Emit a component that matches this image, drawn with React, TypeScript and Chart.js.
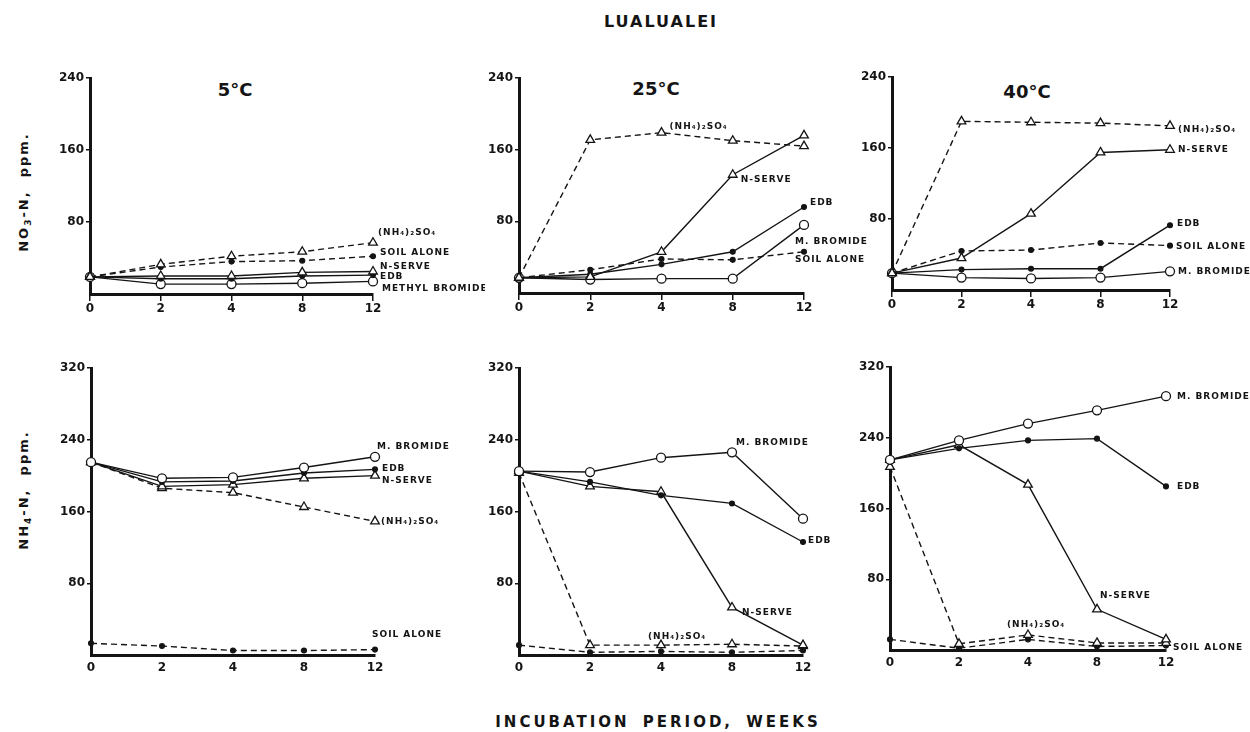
import React, { useEffect, useRef } from 'react';
import { Chart, registerables } from 'chart.js';

Chart.register(...registerables);

const INK = '#141414';
const FONT_FAMILY = '"DejaVu Sans", "Liberation Sans", sans-serif';

// ---- categories / ticks ----
const weeks = ['0', '2', '4', '8', '12'];
const no3Max = 240;
const nh4Max = 320;
const yStep = 80;

// ---- NO3-N, ppm ----
// 5 °C
const no3_5C_ammSulfate = [19, 33, 42, 47, 57];
const no3_5C_soilAlone = [19, 30, 36, 37, 42];
const no3_5C_nServe = [19, 20, 20, 24, 25];
const no3_5C_edb = [19, 17, 17, 20, 21];
const no3_5C_mBromide = [19, 11, 11, 12, 14];
// 25 °C
const no3_25C_ammSulfate = [17, 171, 179, 170, 164];
const no3_25C_nServe = [17, 18, 46, 132, 176];
const no3_25C_edb = [17, 21, 32, 46, 96];
const no3_25C_mBromide = [17, 15, 16, 16, 76];
const no3_25C_soilAlone = [17, 26, 38, 37, 46];
// 40 °C
const no3_40C_ammSulfate = [19, 190, 189, 188, 185];
const no3_40C_nServe = [19, 36, 86, 155, 158];
const no3_40C_edb = [19, 23, 24, 24, 73];
const no3_40C_soilAlone = [19, 44, 45, 53, 50];
const no3_40C_mBromide = [19, 14, 13, 14, 21];

// ---- NH4-N, ppm ----
// 5 °C
const nh4_5C_mBromide = [215, 197, 198, 209, 221];
const nh4_5C_edb = [215, 193, 194, 203, 207];
const nh4_5C_nServe = [215, 188, 190, 197, 200];
const nh4_5C_ammSulfate = [215, 186, 181, 165, 149];
const nh4_5C_soilAlone = [13, 10, 5, 5, 6];
// 25 °C
const nh4_25C_mBromide = [205, 204, 220, 226, 152];
const nh4_25C_edb = [205, 193, 178, 169, 126];
const nh4_25C_nServe = [205, 188, 182, 53, 11];
const nh4_25C_ammSulfate = [203, 11, 11, 12, 10];
const nh4_25C_soilAlone = [11, 3, 4, 3, 5];
// 40 °C
const nh4_40C_mBromide = [215, 237, 256, 271, 287];
const nh4_40C_edb = [215, 228, 237, 239, 185];
const nh4_40C_nServe = [215, 232, 187, 46, 12];
const nh4_40C_ammSulfate = [207, 7, 17, 8, 8];
const nh4_40C_soilAlone = [12, 2, 12, 4, 5];

const AMM = '(NH\u2084)\u2082SO\u2084';

type Kind = 'amm' | 'soil' | 'nserve' | 'edb' | 'mbr';
type Label = { text: string; data: number[]; i: number; dx: number; dy: number };
type PanelDef = {
  l: number; r: number; t: number; b: number; padR: number;
  max: number; xTicks: boolean;
  series: { kind: Kind; data: number[] }[];
  labels: Label[];
};

const PAD_T = 12;
const Y_W = 45;
const X_H = 25;

const panels: PanelDef[] = [
  {
    l: 90, r: 373, t: 78, b: 294, padR: 112, max: no3Max, xTicks: true,
    series: [
      { kind: 'amm', data: no3_5C_ammSulfate },
      { kind: 'soil', data: no3_5C_soilAlone },
      { kind: 'nserve', data: no3_5C_nServe },
      { kind: 'edb', data: no3_5C_edb },
      { kind: 'mbr', data: no3_5C_mBromide },
    ],
    labels: [
      { text: AMM, data: no3_5C_ammSulfate, i: 4, dx: 5, dy: -10 },
      { text: 'SOIL ALONE', data: no3_5C_soilAlone, i: 4, dx: 7, dy: -4 },
      { text: 'N-SERVE', data: no3_5C_nServe, i: 4, dx: 7, dy: -5 },
      { text: 'EDB', data: no3_5C_edb, i: 4, dx: 7, dy: 2 },
      { text: 'METHYL BROMIDE', data: no3_5C_mBromide, i: 4, dx: 9, dy: 7 },
    ],
  },
  {
    l: 519, r: 804, t: 78, b: 293, padR: 75, max: no3Max, xTicks: true,
    series: [
      { kind: 'amm', data: no3_25C_ammSulfate },
      { kind: 'nserve', data: no3_25C_nServe },
      { kind: 'edb', data: no3_25C_edb },
      { kind: 'mbr', data: no3_25C_mBromide },
      { kind: 'soil', data: no3_25C_soilAlone },
    ],
    labels: [
      { text: AMM, data: no3_25C_ammSulfate, i: 2, dx: 8, dy: -6 },
      { text: 'N-SERVE', data: no3_25C_nServe, i: 3, dx: 8, dy: 5 },
      { text: 'EDB', data: no3_25C_edb, i: 4, dx: 6, dy: -4 },
      { text: 'M. BROMIDE', data: no3_25C_mBromide, i: 4, dx: -9, dy: 17 },
      { text: 'SOIL ALONE', data: no3_25C_soilAlone, i: 4, dx: -9, dy: 8 },
    ],
  },
  {
    l: 892, r: 1170, t: 77, b: 290, padR: 80, max: no3Max, xTicks: true,
    series: [
      { kind: 'amm', data: no3_40C_ammSulfate },
      { kind: 'nserve', data: no3_40C_nServe },
      { kind: 'edb', data: no3_40C_edb },
      { kind: 'soil', data: no3_40C_soilAlone },
      { kind: 'mbr', data: no3_40C_mBromide },
    ],
    labels: [
      { text: AMM, data: no3_40C_ammSulfate, i: 4, dx: 8, dy: 4 },
      { text: 'N-SERVE', data: no3_40C_nServe, i: 4, dx: 8, dy: 0 },
      { text: 'EDB', data: no3_40C_edb, i: 4, dx: 7, dy: -2 },
      { text: 'SOIL ALONE', data: no3_40C_soilAlone, i: 4, dx: 6, dy: 1 },
      { text: 'M. BROMIDE', data: no3_40C_mBromide, i: 4, dx: 8, dy: 0 },
    ],
  },
  {
    l: 91, r: 375, t: 368, b: 655, padR: 80, max: nh4Max, xTicks: false,
    series: [
      { kind: 'mbr', data: nh4_5C_mBromide },
      { kind: 'edb', data: nh4_5C_edb },
      { kind: 'nserve', data: nh4_5C_nServe },
      { kind: 'amm', data: nh4_5C_ammSulfate },
      { kind: 'soil', data: nh4_5C_soilAlone },
    ],
    labels: [
      { text: 'M. BROMIDE', data: nh4_5C_mBromide, i: 4, dx: 2, dy: -10 },
      { text: 'EDB', data: nh4_5C_edb, i: 4, dx: 7, dy: -1 },
      { text: 'N-SERVE', data: nh4_5C_nServe, i: 4, dx: 7, dy: 5 },
      { text: AMM, data: nh4_5C_ammSulfate, i: 4, dx: 6, dy: 0 },
      { text: 'SOIL ALONE', data: nh4_5C_soilAlone, i: 4, dx: -3, dy: -15 },
    ],
  },
  {
    l: 519, r: 803, t: 368, b: 655, padR: 45, max: nh4Max, xTicks: false,
    series: [
      { kind: 'mbr', data: nh4_25C_mBromide },
      { kind: 'edb', data: nh4_25C_edb },
      { kind: 'nserve', data: nh4_25C_nServe },
      { kind: 'amm', data: nh4_25C_ammSulfate },
      { kind: 'soil', data: nh4_25C_soilAlone },
    ],
    labels: [
      { text: 'M. BROMIDE', data: nh4_25C_mBromide, i: 3, dx: 4, dy: -10 },
      { text: 'EDB', data: nh4_25C_edb, i: 4, dx: 5, dy: -1 },
      { text: 'N-SERVE', data: nh4_25C_nServe, i: 3, dx: 10, dy: 5 },
      { text: AMM, data: nh4_25C_ammSulfate, i: 2, dx: -13, dy: -8 },
    ],
  },
  {
    l: 890, r: 1166, t: 367, b: 650, padR: 84, max: nh4Max, xTicks: false,
    series: [
      { kind: 'mbr', data: nh4_40C_mBromide },
      { kind: 'edb', data: nh4_40C_edb },
      { kind: 'nserve', data: nh4_40C_nServe },
      { kind: 'amm', data: nh4_40C_ammSulfate },
      { kind: 'soil', data: nh4_40C_soilAlone },
    ],
    labels: [
      { text: 'M. BROMIDE', data: nh4_40C_mBromide, i: 4, dx: 11, dy: 0 },
      { text: 'EDB', data: nh4_40C_edb, i: 4, dx: 11, dy: 0 },
      { text: 'N-SERVE', data: nh4_40C_nServe, i: 3, dx: 3, dy: -14 },
      { text: AMM, data: nh4_40C_ammSulfate, i: 2, dx: -21, dy: -10 },
      { text: 'SOIL ALONE', data: nh4_40C_soilAlone, i: 4, dx: 7, dy: 2 },
    ],
  },
];

function styleFor(kind: Kind) {
  const dashed = kind === 'amm' || kind === 'soil';
  const tri = kind === 'amm' || kind === 'nserve';
  const open = kind === 'amm' || kind === 'nserve' || kind === 'mbr';
  return {
    borderColor: INK,
    borderWidth: 1.4,
    borderDash: dashed ? [6, 4] : [],
    pointStyle: tri ? 'triangle' : 'circle',
    pointRadius: open ? (tri ? 5 : 4.5) : 2.4,
    pointBackgroundColor: open ? '#ffffff' : INK,
    pointBorderColor: INK,
    pointBorderWidth: 1.3,
    tension: 0,
    fill: false,
    clip: false as const,
  };
}

const labelPlugin = {
  id: 'seriesLabels',
  afterDatasetsDraw(chart: any, _args: any, opts: any) {
    const { ctx, scales } = chart;
    const x = scales.x;
    const y = scales.y;
    ctx.save();
    ctx.font = `bold 9px ${FONT_FAMILY}`;
    (ctx as any).letterSpacing = '1px';
    ctx.fillStyle = INK;
    ctx.textBaseline = 'middle';
    ctx.textAlign = 'left';
    for (const l of (opts.items || []) as Label[]) {
      const px = x.getPixelForValue(l.i) + l.dx;
      const py = y.getPixelForValue(l.data[l.i]) + l.dy;
      ctx.fillText(l.text, px, py);
    }
    ctx.restore();
  },
};

function Panel({ def }: { def: PanelDef }) {
  const ref = useRef<HTMLCanvasElement | null>(null);
  const width = Y_W + (def.r - def.l) + def.padR;
  const height = PAD_T + (def.b - def.t) + X_H;

  useEffect(() => {
    if (!ref.current) return;
    const tickFont = { family: FONT_FAMILY, size: 12, weight: 'bold' as const };
    const chart = new Chart(ref.current, {
      type: 'line',
      data: {
        labels: weeks,
        datasets: def.series.map((s) => ({ data: s.data, ...styleFor(s.kind) })) as any,
      },
      options: {
        animation: false,
        responsive: false,
        maintainAspectRatio: false,
        devicePixelRatio: 1,
        layout: { padding: { top: PAD_T, right: def.padR, left: 0, bottom: 0 } },
        plugins: {
          legend: { display: false },
          tooltip: { enabled: false },
          seriesLabels: { items: def.labels },
        } as any,
        scales: {
          x: {
            type: 'category',
            offset: false,
            grid: {
              display: true,
              drawOnChartArea: false,
              drawTicks: def.xTicks,
              tickLength: 7,
              color: INK,
              lineWidth: 1.5,
            },
            border: { display: true, color: INK, width: 3 },
            ticks: {
              color: INK,
              font: tickFont,
              padding: def.xTicks ? 1 : 6,
              maxRotation: 0,
              autoSkip: false,
            },
            afterFit: (s: any) => {
              s.height = X_H;
            },
          },
          y: {
            min: 0,
            max: def.max,
            grid: {
              drawOnChartArea: false,
              tickLength: 4,
              lineWidth: 1.5,
              color: (c: any) => (c.tick && c.tick.value === 0 ? 'rgba(0,0,0,0)' : INK),
            },
            border: { display: true, color: INK, width: 3 },
            ticks: {
              stepSize: yStep,
              color: INK,
              font: tickFont,
              padding: 2,
              callback: (v: any) => (Number(v) === 0 ? '' : String(v)),
            },
            afterFit: (s: any) => {
              s.width = Y_W;
            },
          },
        },
      },
      plugins: [labelPlugin],
    });
    return () => chart.destroy();
  }, [def]);

  return (
    <canvas
      ref={ref}
      width={width}
      height={height}
      style={{
        position: 'absolute',
        left: def.l - Y_W,
        top: def.t - PAD_T,
        width,
        height,
      }}
    />
  );
}

const textBase: React.CSSProperties = {
  position: 'absolute',
  fontFamily: FONT_FAMILY,
  fontWeight: 'bold',
  color: INK,
  whiteSpace: 'nowrap',
  transform: 'translate(-50%, -50%)',
  lineHeight: 1,
};

export default function App() {
  useEffect(() => {
    document.body.style.margin = '0';
    document.body.style.background = '#ffffff';
  }, []);
  return (
    <div style={{ position: 'absolute', left: 0, top: 0, width: 1250, height: 732, background: '#fff', overflow: 'hidden' }}>
      <div style={{ ...textBase, left: 661, top: 22, fontSize: 16, letterSpacing: 2 }}>LUALUALEI</div>
      <div style={{ ...textBase, left: 235, top: 90, fontSize: 18 }}>5°C</div>
      <div style={{ ...textBase, left: 656, top: 89, fontSize: 18 }}>25°C</div>
      <div style={{ ...textBase, left: 1027, top: 92, fontSize: 18 }}>40°C</div>
      <div style={{ ...textBase, left: 25, top: 192, fontSize: 13, letterSpacing: 2, transform: 'translate(-50%, -50%) rotate(-90deg)' }}>
        NO<sub style={{ fontSize: 9 }}>3</sub>-N,&nbsp; ppm.
      </div>
      <div style={{ ...textBase, left: 25, top: 490, fontSize: 13, letterSpacing: 2, transform: 'translate(-50%, -50%) rotate(-90deg)' }}>
        NH<sub style={{ fontSize: 9 }}>4</sub>-N,&nbsp; ppm.
      </div>
      <div style={{ ...textBase, left: 658, top: 722, fontSize: 15, letterSpacing: 3, wordSpacing: 5 }}>
        INCUBATION PERIOD, WEEKS
      </div>
      {panels.map((p, k) => (
        <Panel key={k} def={p} />
      ))}
    </div>
  );
}
